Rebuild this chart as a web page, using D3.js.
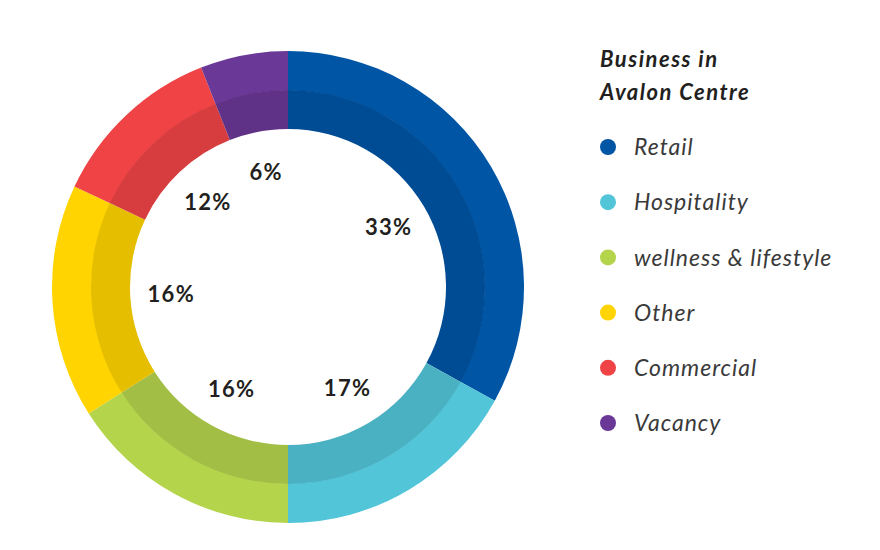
<!DOCTYPE html>
<html lang="en">
<head>
<meta charset="UTF-8">
<title>Business in Avalon Centre</title>
<script src="https://d3js.org/d3.v7.min.js"></script>
<style>
  body { margin: 0; background: #fff; }
  svg { display: block; }
  .pct { font-family: Lato, sans-serif; font-weight: 700; font-size: 22px; letter-spacing: 1.3px; fill: #231f20; }
  .legend-title { font-family: Lato, sans-serif; font-weight: 700; font-style: italic; font-size: 22px; letter-spacing: 1.5px; fill: #231f20; }
  .legend-item { font-family: Lato, sans-serif; font-style: italic; font-size: 23px; letter-spacing: 1px; fill: #3a3a3a; }
</style>
</head>
<body>
<svg width="880" height="550"></svg>
<script>
// data
const categories = ["Retail", "Hospitality", "wellness & lifestyle", "Other", "Commercial", "Vacancy"];
const shares = [33, 17, 16, 16, 12, 6];
const colors = ["#0055a5", "#52c5d8", "#b4d44c", "#ffd400", "#ef4346", "#6a3896"];
const titleLines = ["Business in", "Avalon Centre"];

const data = categories.map((c, i) => ({ name: c, value: shares[i], color: colors[i] }));

const svg = d3.select("svg");
const cx = 288, cy = 287;
const rOuter = 236, rBand = 197, rHole = 158, rLabel = 117;

const pie = d3.pie().value(d => d.value).sort(null);
const arcs = pie(data);

const g = svg.append("g").attr("transform", "translate(" + cx + "," + cy + ")");

// outer lighter ring
const outerArc = d3.arc().innerRadius(rBand - 0.5).outerRadius(rOuter);
g.selectAll("path.outer")
  .data(arcs)
  .enter().append("path")
  .attr("class", "outer")
  .attr("d", outerArc)
  .attr("fill", d => d.data.color);

// inner darker ring
const innerArc = d3.arc().innerRadius(rHole).outerRadius(rBand);
g.selectAll("path.inner")
  .data(arcs)
  .enter().append("path")
  .attr("class", "inner")
  .attr("d", innerArc)
  .attr("fill", d => d3.color(d.data.color).darker(0.3));

// percentage labels
const labelArc = d3.arc().innerRadius(rLabel).outerRadius(rLabel);
g.selectAll("text.pct")
  .data(arcs)
  .enter().append("text")
  .attr("class", "pct")
  .attr("transform", d => "translate(" + labelArc.centroid(d) + ")")
  .attr("text-anchor", "middle")
  .attr("dy", "0.36em")
  .text(d => d.data.value + "%");

// legend
const lg = svg.append("g").attr("transform", "translate(600,0)");
lg.selectAll("text.legend-title")
  .data(titleLines)
  .enter().append("text")
  .attr("class", "legend-title")
  .attr("x", 0)
  .attr("y", (d, i) => 67 + i * 33)
  .text(d => d);

const ly = d3.scalePoint().domain(categories).range([147, 423]);
const items = lg.selectAll("g.item")
  .data(data)
  .enter().append("g")
  .attr("class", "item")
  .attr("transform", d => "translate(0," + ly(d.name) + ")");

items.append("circle")
  .attr("cx", 8)
  .attr("cy", 0)
  .attr("r", 8)
  .attr("fill", d => d.color);

items.append("text")
  .attr("class", "legend-item")
  .attr("x", 34)
  .attr("dy", "0.36em")
  .text(d => d.name);
</script>
</body>
</html>
